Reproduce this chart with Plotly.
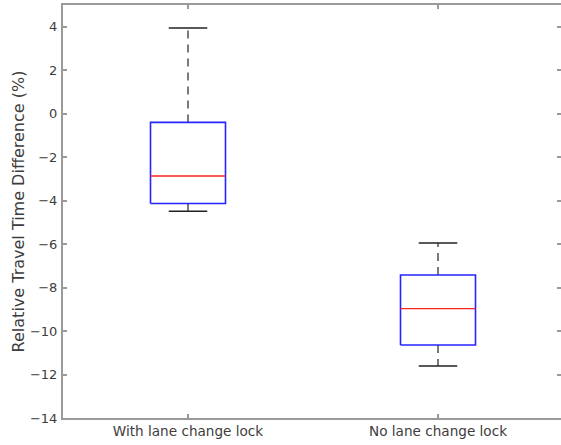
import plotly.graph_objects as go

categories = ["With lane change lock", "No lane change lock"]
lower_whisker = [-4.49, -11.61]
q1 = [-4.13, -10.64]
median = [-2.87, -8.97]
q3 = [-0.40, -7.42]
upper_whisker = [3.94, -5.95]
y_ticks = [-14, -12, -10, -8, -6, -4, -2, 0, 2, 4]

BOX_HALF = 0.15
CAP_HALF = 0.077

fig = go.Figure()
for i, cat in enumerate(categories):
    c = i + 1
    # whiskers (dashed)
    fig.add_trace(go.Scatter(x=[c, c], y=[q3[i], upper_whisker[i]], mode="lines",
                             line=dict(color="#5a5a5a", width=1.6, dash="8px,6px"),
                             hoverinfo="skip", showlegend=False))
    fig.add_trace(go.Scatter(x=[c, c], y=[q1[i], lower_whisker[i]], mode="lines",
                             line=dict(color="#5a5a5a", width=1.6, dash="8px,6px"),
                             hoverinfo="skip", showlegend=False))
    # caps
    for yv in (upper_whisker[i], lower_whisker[i]):
        fig.add_trace(go.Scatter(x=[c - CAP_HALF, c + CAP_HALF], y=[yv, yv], mode="lines",
                                 line=dict(color="#222222", width=1.4),
                                 hoverinfo="skip", showlegend=False))
    # box
    fig.add_trace(go.Scatter(x=[c - BOX_HALF, c + BOX_HALF, c + BOX_HALF, c - BOX_HALF, c - BOX_HALF],
                             y=[q1[i], q1[i], q3[i], q3[i], q1[i]], mode="lines",
                             line=dict(color="#2424ff", width=1.6),
                             hoverinfo="skip", showlegend=False, name=cat))
    # median
    fig.add_trace(go.Scatter(x=[c - BOX_HALF, c + BOX_HALF], y=[median[i], median[i]], mode="lines",
                             line=dict(color="#ff2020", width=1.4),
                             hoverinfo="skip", showlegend=False))

# invisible trace on y2 to enable right-side ticks
fig.add_trace(go.Scatter(x=[1], y=[0], yaxis="y2", mode="markers",
                         marker=dict(opacity=0), hoverinfo="skip", showlegend=False))

axis_color = "#9a9a9a"
font_color = "#3c3c3c"
FONT = "DejaVu Sans, sans-serif"
fig.update_layout(
    width=561, height=445,
    margin=dict(l=63, r=0, t=5, b=27, autoexpand=False),
    plot_bgcolor="white", paper_bgcolor="white",
    font=dict(family=FONT, size=13, color=font_color),
    xaxis=dict(range=[0.5, 2.492], tickvals=[1, 2], ticktext=categories,
               ticks="inside", ticklen=4, tickcolor=axis_color, tickwidth=1.5,
               showline=True, linecolor=axis_color, linewidth=2, mirror="ticks",
               showgrid=False, zeroline=False, automargin=False,
               tickfont=dict(family=FONT, size=13.6, color=font_color)),
    yaxis=dict(range=[-14, 5], tickvals=y_ticks,
               ticks="inside", ticklen=4, tickcolor=axis_color, tickwidth=1.5,
               showline=True, linecolor=axis_color, linewidth=2,
               showgrid=False, zeroline=False, ticklabelstandoff=1, automargin=False,
               tickfont=dict(family=FONT, size=13, color=font_color),
               title=dict(text="Relative Travel Time Difference (%)", standoff=1,
                          font=dict(family=FONT, size=16, color=font_color))),
    yaxis2=dict(range=[-14, 5], tickvals=y_ticks, overlaying="y", side="right",
                ticks="inside", ticklen=4, tickcolor=axis_color, tickwidth=1.5,
                showticklabels=False, showline=False, showgrid=False, zeroline=False),
)

fig.write_html("out.html", config={"displayModeBar": False},
               post_script="document.body.style.margin='0px';document.body.style.overflow='hidden';")
